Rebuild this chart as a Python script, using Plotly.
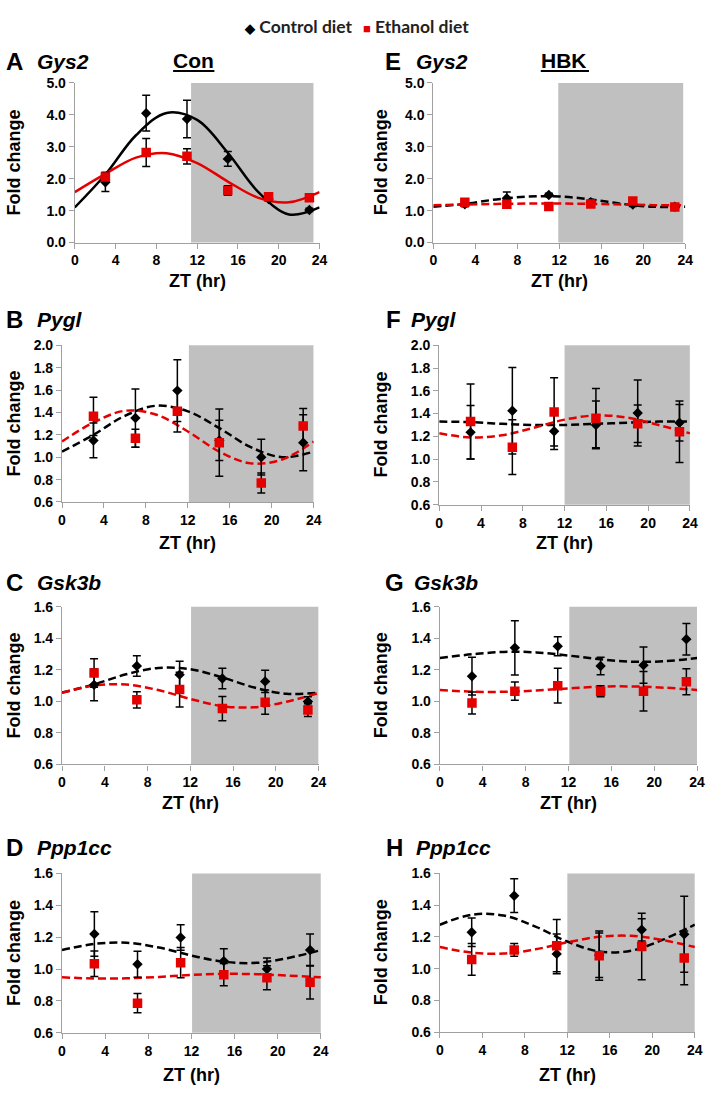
import plotly.graph_objects as go

W, H = 711, 1096

# ---------------- data ----------------
ZT = [3, 7, 11, 15, 19, 23]
FIT_ZT = [0, 3, 6, 9, 12, 15, 18, 21, 24]
X_TICKS = [0, 4, 8, 12, 16, 20, 24]

# A  Gys2 (Con)
A_ctrl = [1.89, 4.05, 3.87, 2.62, 1.36, 1.02]
A_ctrl_err = [0.29, 0.56, 0.59, 0.23, 0.06, 0.05]
A_eth = [2.05, 2.82, 2.70, 1.63, 1.43, 1.40]
A_eth_err = [0.15, 0.44, 0.24, 0.15, 0.06, 0.06]
A_ctrl_fit = [1.10, 2.13, 3.36, 4.06, 3.84, 2.81, 1.58, 0.88, 1.10]
A_eth_fit = [1.58, 2.15, 2.66, 2.80, 2.49, 1.91, 1.40, 1.26, 1.58]

# E  Gys2 (HBK)
E_ctrl = [1.20, 1.39, 1.49, 1.26, 1.19, 1.12]
E_ctrl_err = [0.08, 0.19, 0.05, 0.06, 0.06, 0.05]
E_eth = [1.26, 1.20, 1.13, 1.21, 1.30, 1.11]
E_eth_err = [0.05, 0.13, 0.04, 0.08, 0.06, 0.05]
E_ctrl_fit = [1.12, 1.21, 1.35, 1.44, 1.44, 1.35, 1.21, 1.12, 1.12]
E_eth_fit = [1.17, 1.19, 1.21, 1.22, 1.22, 1.21, 1.19, 1.17, 1.17]

# B  Pygl (Con)
B_ctrl = [1.15, 1.35, 1.595, 1.15, 1.00, 1.13]
B_ctrl_err = [0.155, 0.26, 0.275, 0.18, 0.16, 0.25]
B_eth = [1.365, 1.17, 1.41, 1.13, 0.77, 1.28]
B_eth_err = [0.17, 0.08, 0.185, 0.30, 0.09, 0.155]
B_ctrl_fit = [1.05, 1.20, 1.37, 1.46, 1.41, 1.26, 1.09, 1.00, 1.05]
B_eth_fit = [1.14, 1.31, 1.415, 1.38, 1.23, 1.05, 0.945, 0.98, 1.14]

# F  Pygl (HBK)
F_ctrl = [1.235, 1.425, 1.245, 1.30, 1.405, 1.32]
F_ctrl_err = [0.235, 0.38, 0.16, 0.21, 0.29, 0.16]
F_eth = [1.33, 1.105, 1.415, 1.36, 1.31, 1.24]
F_eth_err = [0.33, 0.24, 0.30, 0.26, 0.165, 0.27]
F_ctrl_fit = [1.33, 1.325, 1.31, 1.30, 1.30, 1.31, 1.32, 1.33, 1.33]
F_eth_fit = [1.227, 1.19, 1.209, 1.274, 1.347, 1.384, 1.365, 1.30, 1.227]

# C  Gsk3b (Con)
C_ctrl = [1.105, 1.225, 1.17, 1.145, 1.127, 1.00]
C_ctrl_err = [0.10, 0.065, 0.085, 0.065, 0.07, 0.03]
C_eth = [1.18, 1.01, 1.075, 0.955, 0.995, 0.945]
C_eth_err = [0.09, 0.052, 0.11, 0.077, 0.077, 0.04]
C_ctrl_fit = [1.056, 1.108, 1.172, 1.212, 1.204, 1.152, 1.088, 1.048, 1.056]
C_eth_fit = [1.054, 1.100, 1.107, 1.072, 1.016, 0.970, 0.963, 0.998, 1.054]

# G  Gsk3b (HBK)
G_ctrl = [1.16, 1.34, 1.35, 1.225, 1.23, 1.395]
G_ctrl_err = [0.12, 0.172, 0.06, 0.055, 0.115, 0.10]
G_eth = [0.99, 1.065, 1.10, 1.065, 1.065, 1.125]
G_eth_err = [0.07, 0.058, 0.11, 0.035, 0.125, 0.083]
G_ctrl_fit = [1.275, 1.299, 1.314, 1.311, 1.291, 1.267, 1.252, 1.255, 1.275]
G_eth_fit = [1.073, 1.062, 1.061, 1.069, 1.083, 1.094, 1.095, 1.087, 1.073]

# D  Ppp1cc (Con)
D_ctrl = [1.22, 1.03, 1.198, 1.05, 1.00, 1.12]
D_ctrl_err = [0.14, 0.082, 0.08, 0.078, 0.07, 0.10]
D_eth = [1.033, 0.786, 1.04, 0.965, 0.946, 0.918]
D_eth_err = [0.08, 0.06, 0.095, 0.07, 0.075, 0.105]
D_ctrl_fit = [1.119, 1.158, 1.165, 1.135, 1.085, 1.046, 1.039, 1.07, 1.119]
D_eth_fit = [0.948, 0.941, 0.942, 0.951, 0.963, 0.970, 0.968, 0.959, 0.948]

# H  Ppp1cc (HBK)
H_ctrl = [1.23, 1.46, 1.093, 1.085, 1.245, 1.217]
H_ctrl_err = [0.09, 0.106, 0.125, 0.14, 0.07, 0.24]
H_eth = [1.058, 1.118, 1.145, 1.082, 1.14, 1.068]
H_eth_err = [0.10, 0.04, 0.165, 0.155, 0.21, 0.17]
H_ctrl_fit = [1.277, 1.340, 1.335, 1.265, 1.171, 1.108, 1.113, 1.183, 1.277]
H_eth_fit = [1.136, 1.101, 1.095, 1.122, 1.166, 1.201, 1.207, 1.18, 1.136]

# dark phase (ZT) per panel
DARK = {'A': (11.4, 23.4), 'E': (11.9, 23.8), 'B': (12.1, 24), 'F': (12.0, 24),
        'C': (12.07, 24), 'G': (12.08, 24), 'D': (12.06, 24), 'H': (12.0, 24)}

# ---------------- styling / layout ----------------
FONT = "Liberation Sans"
RED = "#e50000"
BLACK = "#000000"
GREY_FILL = "#c0c0c0"
AXIS_GREY = "#a0a0a0"

panels = [
    dict(k='A', gene='Gys2', c=A_ctrl, ce=A_ctrl_err, e=A_eth, ee=A_eth_err, cf=A_ctrl_fit, ef=A_eth_fit,
         box=(72, 321, 76, 238), yr=[0, 5], dt=1.0, solid=True, lab=(11, 32, 54), xt=277),
    dict(k='E', gene='Gys2', c=E_ctrl, ce=E_ctrl_err, e=E_eth, ee=E_eth_err, cf=E_ctrl_fit, ef=E_eth_fit,
         box=(436.7, 693, 76, 238), yr=[0, 5], dt=1.0, solid=False, lab=(396, 417, 54), xt=277),
    dict(k='B', gene='Pygl', c=B_ctrl, ce=B_ctrl_err, e=B_eth, ee=B_eth_err, cf=B_ctrl_fit, ef=B_eth_fit,
         box=(59, 315, 342.3, 501.3), yr=[0.6, 2.0], dt=0.2, solid=False, lab=(11, 32, 316), xt=543),
    dict(k='F', gene='Pygl', c=F_ctrl, ce=F_ctrl_err, e=F_eth, ee=F_eth_err, cf=F_ctrl_fit, ef=F_eth_fit,
         box=(442.7, 697.7, 342.3, 504), yr=[0.6, 2.0], dt=0.2, solid=False, lab=(396, 412, 316), xt=543),
    dict(k='C', gene='Gsk3b', c=C_ctrl, ce=C_ctrl_err, e=C_eth, ee=C_eth_err, cf=C_ctrl_fit, ef=C_eth_fit,
         box=(59, 320, 607.7, 767.7), yr=[0.6, 1.6], dt=0.2, solid=False, lab=(11, 32, 583), xt=807),
    dict(k='G', gene='Gsk3b', c=G_ctrl, ce=G_ctrl_err, e=G_eth, ee=G_eth_err, cf=G_ctrl_fit, ef=G_eth_fit,
         box=(443.3, 705, 607.7, 767.7), yr=[0.6, 1.6], dt=0.2, solid=False, lab=(397, 415, 583), xt=807),
    dict(k='D', gene='Ppp1cc', c=D_ctrl, ce=D_ctrl_err, e=D_eth, ee=D_eth_err, cf=D_ctrl_fit, ef=D_eth_fit,
         box=(59, 322.3, 878.3, 1040), yr=[0.6, 1.6], dt=0.2, solid=False, lab=(11, 32, 852), xt=1083),
    dict(k='H', gene='Ppp1cc', c=H_ctrl, ce=H_ctrl_err, e=H_eth, ee=H_eth_err, cf=H_ctrl_fit, ef=H_eth_fit,
         box=(443.3, 702.7, 878.3, 1039.3), yr=[0.6, 1.6], dt=0.2, solid=False, lab=(397, 417, 852), xt=1083),
]

fig = go.Figure()
layout = {}
shapes = []
annotations = []

def px_x(x):
    return x / W

def px_y(y):
    return 1 - y / H

for i, p in enumerate(panels, start=1):
    xa = 'x' if i == 1 else f'x{i}'
    ya = 'y' if i == 1 else f'y{i}'
    x0, x1, y0, y1 = p['box']
    tickfont = dict(family=FONT, size=14, color='black', weight='bold')
    layout['xaxis' if i == 1 else f'xaxis{i}'] = dict(
        domain=[px_x(x0), px_x(x1)], anchor=ya, range=[0, 24], tickvals=X_TICKS,
        showgrid=False, zeroline=False, showline=True, linecolor=AXIS_GREY, linewidth=1.2,
        ticks='outside', ticklen=5, tickcolor=AXIS_GREY, tickwidth=1.2, tickfont=tickfont,
        ticklabeloverflow='allow', fixedrange=True)
    layout['yaxis' if i == 1 else f'yaxis{i}'] = dict(
        domain=[px_y(y1), px_y(y0)], anchor=xa, range=p['yr'], dtick=p['dt'], tick0=0,
        tickformat='.1f', showgrid=False, zeroline=False, showline=True, linecolor=AXIS_GREY,
        linewidth=1.2, ticks='outside', ticklen=5, tickcolor=AXIS_GREY, tickwidth=1.2,
        tickfont=tickfont, ticklabeloverflow='allow', fixedrange=True)

    d0, d1 = DARK[p['k']]
    shapes.append(dict(type='rect', xref=xa, yref=f'{ya} domain', x0=d0, x1=d1, y0=0, y1=1.0,
                       fillcolor=GREY_FILL, line=dict(width=0), layer='below'))

    dash = 'solid' if p['solid'] else '8px,4px'
    fig.add_trace(go.Scatter(x=FIT_ZT, y=p['cf'], mode='lines', xaxis=xa, yaxis=ya,
                             line=dict(color=BLACK, width=2.5, dash=dash, shape='spline'),
                             showlegend=False, hoverinfo='skip'))
    fig.add_trace(go.Scatter(x=FIT_ZT, y=p['ef'], mode='lines', xaxis=xa, yaxis=ya,
                             line=dict(color=RED, width=2.5, dash=dash, shape='spline'),
                             showlegend=False, hoverinfo='skip'))
    fig.add_trace(go.Scatter(x=ZT, y=p['c'], mode='markers', xaxis=xa, yaxis=ya,
                             marker=dict(symbol='diamond', size=8, color=BLACK),
                             error_y=dict(type='data', array=p['ce'], color=BLACK, thickness=1.5, width=4),
                             showlegend=False, name='Control diet'))
    fig.add_trace(go.Scatter(x=ZT, y=p['e'], mode='markers', xaxis=xa, yaxis=ya,
                             marker=dict(symbol='square', size=9.5, color=RED),
                             error_y=dict(type='data', array=p['ee'], color=BLACK, thickness=1.5, width=4),
                             showlegend=False, name='Ethanol diet'))

    lx, gx, ly = p['lab']
    annotations.append(dict(text=f"<b>{p['k']}</b>", xref='paper', yref='paper', x=px_x(lx), y=px_y(ly),
                            xanchor='center', yanchor='middle', showarrow=False,
                            font=dict(family=FONT, size=24, color='black')))
    annotations.append(dict(text=f"<b><i>{p['gene']}</i></b>", xref='paper', yref='paper', x=px_x(gx),
                            y=px_y(ly), xanchor='left', yanchor='middle', showarrow=False,
                            font=dict(family=FONT, size=21, color='black')))
    # axis titles
    ytx = 10 if x0 < 200 else 383
    annotations.append(dict(text="<b>Fold change</b>", xref='paper', yref='paper', x=px_x(ytx),
                            y=px_y((y0 + y1) / 2), xanchor='center', yanchor='middle', textangle=-90,
                            showarrow=False, font=dict(family=FONT, size=18, color='black')))
    annotations.append(dict(text="<b>ZT (hr)</b>", xref='paper', yref='paper', x=px_x((x0 + x1) / 2),
                            y=px_y(p['xt']), xanchor='center', yanchor='middle', showarrow=False,
                            font=dict(family=FONT, size=18, color='black')))

# column headers
annotations.append(dict(text="<b>Con</b>", xref='paper', yref='paper', x=px_x(193), y=px_y(53),
                        xanchor='center', yanchor='middle', showarrow=False,
                        font=dict(family=FONT, size=21, color='black')))
annotations.append(dict(text="<b>HBK</b>", xref='paper', yref='paper', x=px_x(570), y=px_y(53),
                        xanchor='center', yanchor='middle', showarrow=False,
                        font=dict(family=FONT, size=21, color='black')))
shapes.append(dict(type='line', xref='paper', yref='paper', x0=px_x(172), x1=px_x(214),
                   y0=px_y(64), y1=px_y(64), line=dict(color='black', width=2)))
shapes.append(dict(type='line', xref='paper', yref='paper', x0=px_x(546), x1=px_x(595),
                   y0=px_y(64), y1=px_y(64), line=dict(color='black', width=2)))

# legend (text)
annotations.append(dict(text='<span style="color:#000000;font-size:13px">◆</span> Control diet',
                        xref='paper', yref='paper',
                        x=px_x(242), y=px_y(19), xanchor='left', yanchor='middle', showarrow=False,
                        font=dict(family="Lato", size=17.5, color='#222222', weight='bold')))
annotations.append(dict(text=f'<span style="color:{RED};font-size:13px">■</span> Ethanol diet',
                        xref='paper', yref='paper',
                        x=px_x(363), y=px_y(19), xanchor='left', yanchor='middle', showarrow=False,
                        font=dict(family="Lato", size=17.5, color='#222222', weight='bold')))

fig.update_layout(**layout)
fig.update_layout(width=W, height=H, margin=dict(l=0, r=0, t=0, b=0), showlegend=False,
                  plot_bgcolor='white', paper_bgcolor='white', shapes=shapes, annotations=annotations)

fig.write_html("out.html", config={'displayModeBar': False},
               post_script="document.body.style.margin='0';document.body.style.overflow='hidden';")
